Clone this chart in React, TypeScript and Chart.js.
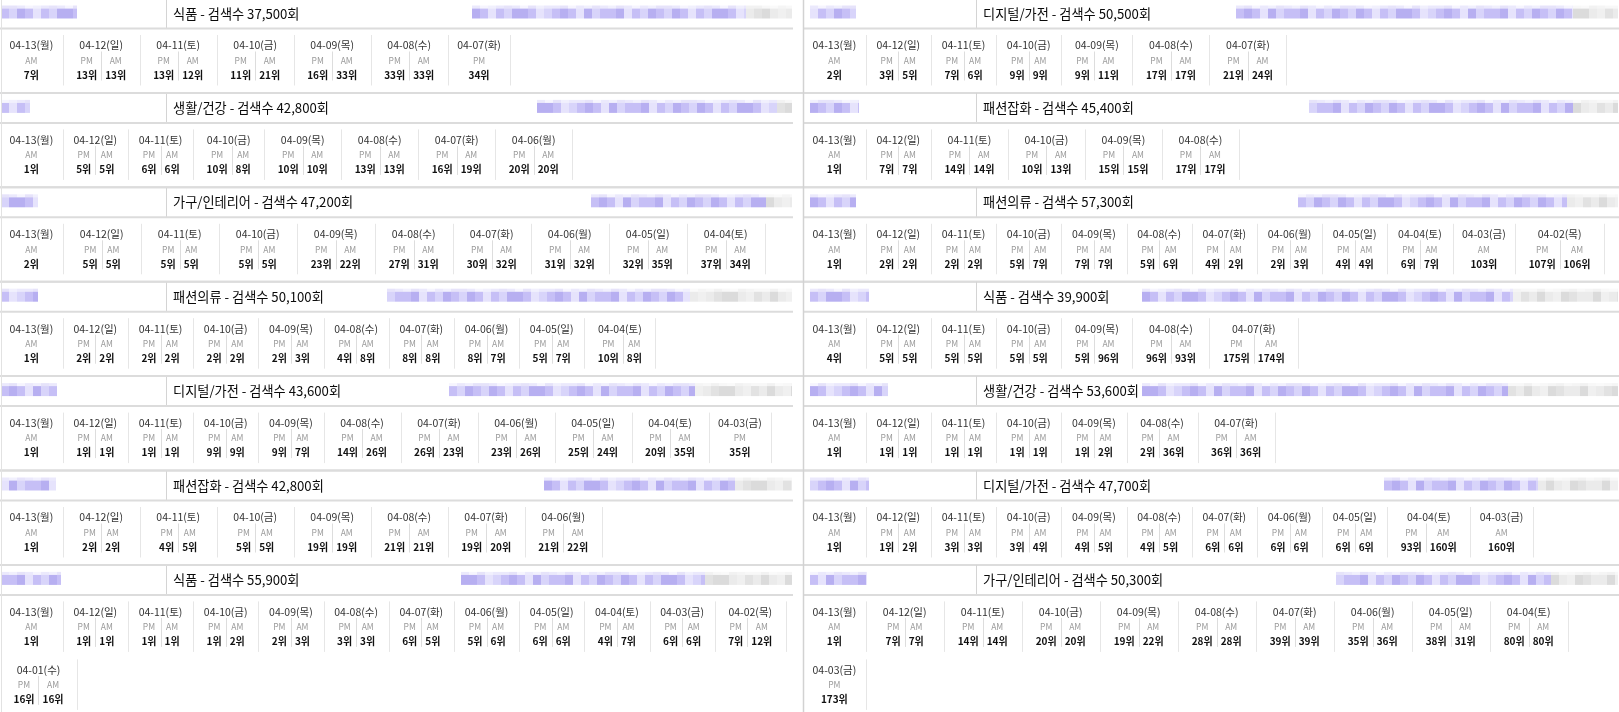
import React, { useEffect, useRef } from "react";
import { Chart, registerables } from "chart.js";
Chart.register(...registerables);

const W = 1619;
const H = 712;

// ---------- DATA ----------
const dateLabels = [
  "04-13(월)", "04-12(일)", "04-11(토)", "04-10(금)", "04-09(목)", "04-08(수)", "04-07(화)",
  "04-06(월)", "04-05(일)", "04-04(토)", "04-03(금)", "04-02(목)", "04-01(수)",
];

// panels: first seven = left column (top to bottom), next seven = right column
const categories = [
  "식품", "생활/건강", "가구/인테리어", "패션의류", "디지털/가전", "패션잡화", "식품",
  "디지털/가전", "패션잡화", "패션의류", "식품", "생활/건강", "디지털/가전", "가구/인테리어",
];
const searchCounts = [
  37500, 42800, 47200, 50100, 43600, 42800, 55900,
  50500, 45400, 57300, 39900, 53600, 47700, 50300,
];

const pmRanks: (number | null)[][] = [
  [null, 13, 13, 11, 16, 33, 34],
  [null, 5, 6, 10, 10, 13, 16, 20],
  [null, 5, 5, 5, 23, 27, 30, 31, 32, 37],
  [null, 2, 2, 2, 2, 4, 8, 8, 5, 10],
  [null, 1, 1, 9, 9, 14, 26, 23, 25, 20, 35],
  [null, 2, 4, 5, 19, 21, 19, 21],
  [null, 1, 1, 1, 2, 3, 6, 5, 6, 4, 6, 7, 16],
  [null, 3, 7, 9, 9, 17, 21],
  [null, 7, 14, 10, 15, 17],
  [null, 2, 2, 5, 7, 5, 4, 2, 4, 6, null, 107],
  [null, 5, 5, 5, 5, 96, 175],
  [null, 1, 1, 1, 1, 2, 36],
  [null, 1, 3, 3, 4, 4, 6, 6, 6, 93, null],
  [null, 7, 14, 20, 19, 28, 39, 35, 38, 80, 173],
];
const amRanks: (number | null)[][] = [
  [7, 13, 12, 21, 33, 33, null],
  [1, 5, 6, 8, 10, 13, 19, 20],
  [2, 5, 5, 5, 22, 31, 32, 32, 35, 34],
  [1, 2, 2, 2, 3, 8, 8, 7, 7, 8],
  [1, 1, 1, 9, 7, 26, 23, 26, 24, 35, null],
  [1, 2, 5, 5, 19, 21, 20, 22],
  [1, 1, 1, 2, 3, 3, 5, 6, 6, 7, 6, 12, 16],
  [2, 5, 6, 9, 11, 17, 24],
  [1, 7, 14, 13, 15, 17],
  [1, 2, 2, 7, 7, 6, 2, 3, 4, 7, 103, 106],
  [4, 5, 5, 5, 96, 93, 174],
  [1, 1, 1, 1, 2, 36, 36],
  [1, 2, 3, 4, 5, 5, 6, 6, 6, 160, 160],
  [1, 7, 14, 20, 22, 28, 39, 36, 31, 80, null],
];

// ---------- LAYOUT / STYLE ----------
const COL_X = [0, 803];
const COL_W = [803, 816];
const HEADER_END = [793, 1619];
const SPLIT = [166, 173];
const PANEL_TOP0 = -1.5;
const PANEL_PITCH = 94.4;
const ROW_PITCH = 58;
const SUB_PAD = 8;
const CELL_PAD = 19;
const minPairW = [0, 0, 78, 0, 0, 77, 0, 0, 0, 0, 0, 0, 0, 78];
// redacted (mosaic) text widths in header
const redactLeftW = [76, 29, 37, 37, 56, 55, 60, 46, 49, 46, 59, 78, 59, 57];
const redactPurpleW = [274, 240, 175, 303, 246, 191, 244, 337, 264, 269, 371, 366, 154, 215];
const redactGrayW = [46, 15, 26, 102, 97, 57, 87, 45, 45, 51, 105, 110, 80, 67];

const FONT = '"Noto Sans CJK KR", "Noto Sans", sans-serif';
const MOSAIC = [1, 0, 2, 1, 3, 1, 0, 2, 2, 1, 3, 0, 1, 2, 1, 3, 2, 0, 1, 1, 2, 3, 1, 0, 2];
const PURPLE = ["#d8d4fa", "#c6bff6", "#b7aff1", "#e6e3fc"];
const GRAY = ["#e2e2e2", "#ebebeb", "#dbdbdb", "#f0f0f0"];

type Sub = { label: string; rank: number; w: number };
type Cell = { date: string; subs: Sub[]; w: number; group: number; x: number; row: number };

function buildCells(ctx: CanvasRenderingContext2D, pi: number, x0: number, colW: number): Cell[] {
  const cells: Cell[] = [];
  const pm = pmRanks[pi];
  const am = amRanks[pi];
  let x = x0;
  let row = 0;
  let inRow = 0;
  for (let i = 0; i < pm.length; i++) {
    const subs: Sub[] = [];
    ctx.font = `bold 10px ${FONT}`;
    if (pm[i] != null) subs.push({ label: "PM", rank: pm[i] as number, w: ctx.measureText(`${pm[i]}위`).width + SUB_PAD });
    if (am[i] != null) subs.push({ label: "AM", rank: am[i] as number, w: ctx.measureText(`${am[i]}위`).width + SUB_PAD });
    const group = subs.reduce((s, d) => s + d.w, 0);
    ctx.font = `10.5px ${FONT}`;
    const dw = ctx.measureText(dateLabels[i]).width;
    let w = Math.max(group, dw) + CELL_PAD;
    if (subs.length === 2) w = Math.max(w, minPairW[pi]);
    if (inRow > 0 && x + w > x0 + colW) {
      row += 1;
      x = x0;
      inRow = 0;
    }
    cells.push({ date: dateLabels[i], subs, w, group, x, row });
    x += w;
    inRow += 1;
  }
  return cells;
}

function mosaic(ctx: CanvasRenderingContext2D, xa: number, xb: number, y: number, h: number, pal: string[], phase: number) {
  const step = 8;
  let k = phase;
  for (let x = xa; x < xb; x += step) {
    const w = Math.min(step, xb - x);
    ctx.fillStyle = pal[MOSAIC[k % MOSAIC.length]];
    ctx.fillRect(x, y, w, h);
    ctx.globalAlpha = 0.35;
    ctx.fillStyle = pal[MOSAIC[(k + 7) % MOSAIC.length]];
    ctx.fillRect(x, y - 3, w, 3);
    ctx.globalAlpha = 1;
    k++;
  }
}

const tablePlugin = {
  id: "rankTable",
  beforeDraw(chart: any) {
    const ctx = chart.ctx as CanvasRenderingContext2D;
    ctx.save();
    ctx.fillStyle = "#ffffff";
    ctx.fillRect(0, 0, chart.width, chart.height);
    ctx.restore();
  },
  afterDraw(chart: any) {
    const ctx = chart.ctx as CanvasRenderingContext2D;
    const xs = chart.scales.x;
    const ys = chart.scales.y;
    const X = (v: number) => xs.getPixelForValue(v);
    const Y = (v: number) => ys.getPixelForValue(v);
    const hline = (xa: number, xb: number, y: number, color: string, lw: number) => {
      ctx.strokeStyle = color;
      ctx.lineWidth = lw;
      ctx.beginPath();
      ctx.moveTo(X(xa), Y(y));
      ctx.lineTo(X(xb), Y(y));
      ctx.stroke();
    };
    const vline = (x: number, ya: number, yb: number, color: string, lw: number) => {
      ctx.strokeStyle = color;
      ctx.lineWidth = lw;
      ctx.beginPath();
      ctx.moveTo(Math.round(X(x)) + 0.5, Y(ya));
      ctx.lineTo(Math.round(X(x)) + 0.5, Y(yb));
      ctx.stroke();
    };
    ctx.save();

    for (let pi = 0; pi < categories.length; pi++) {
      const col = Math.floor(pi / 7);
      const r = pi % 7;
      const T = PANEL_TOP0 + r * PANEL_PITCH;
      const x0 = COL_X[col];
      const hEnd = HEADER_END[col];

      // header: redacted blocks
      const lx = col === 0 ? x0 + 1 : x0 + 7;
      mosaic(ctx, X(lx), X(lx + redactLeftW[pi]), Y(T + 10), Y(T + 20) - Y(T + 10), PURPLE, pi * 3);
      const gx = hEnd - 1 - redactGrayW[pi];
      const px = gx - redactPurpleW[pi];
      mosaic(ctx, X(px), X(gx), Y(T + 10), Y(T + 20) - Y(T + 10), PURPLE, pi * 5 + 2);
      mosaic(ctx, X(gx), X(hEnd - 1), Y(T + 10), Y(T + 20) - Y(T + 10), GRAY, pi);

      // header divider + title
      vline(x0 + SPLIT[col], T, T + 30, "#d4d4d4", 1);
      ctx.fillStyle = "#0a0a0a";
      ctx.font = `13.2px ${FONT}`;
      ctx.textAlign = "left";
      ctx.textBaseline = "middle";
      ctx.fillText(`${categories[pi]} - 검색수 ${searchCounts[pi].toLocaleString("en-US")}회`, X(x0 + SPLIT[col] + 7), Y(T + 15));

      // header bottom line
      hline(x0, hEnd, T + 30, "#dcdcdc", 2);
      // panel bottom line
      if (r < 6) hline(0, W, T + PANEL_PITCH, "#dcdcdc", 2);

      // body cells
      const cells = buildCells(ctx, pi, x0, COL_W[col]);
      for (const c of cells) {
        const ro = T + c.row * ROW_PITCH;
        const cx = c.x + c.w / 2;
        vline(c.x + c.w, ro + 36.5, ro + 87, "#e6e6e6", 1);
        ctx.textAlign = "center";
        ctx.textBaseline = "middle";
        ctx.fillStyle = "#333333";
        ctx.font = `10.5px ${FONT}`;
        ctx.fillText(c.date, X(cx), Y(ro + 47));
        let sx = cx - c.group / 2;
        c.subs.forEach((s, k) => {
          const sc = sx + s.w / 2;
          ctx.fillStyle = "#9a9a9a";
          ctx.font = `8.5px ${FONT}`;
          ctx.fillText(s.label, X(sc), Y(ro + 62));
          ctx.fillStyle = "#111111";
          ctx.font = `bold 10px ${FONT}`;
          ctx.fillText(`${s.rank}위`, X(sc), Y(ro + 76.5));
          if (k > 0) vline(sx, ro + 53, ro + 82, "#dddddd", 1);
          sx += s.w;
        });
      }
    }

    // column separator and left border
    vline(803, 0, H, "#d2d2d2", 1.5);
    vline(1, 0, H, "#e2e2e2", 1);
    ctx.restore();
  },
};

export default function App() {
  const ref = useRef<HTMLCanvasElement>(null);
  useEffect(() => {
    const canvas = ref.current!;
    const chart = new Chart(canvas, {
      type: "scatter",
      data: { datasets: [{ data: [], pointRadius: 0 }] },
      options: {
        animation: false,
        responsive: false,
        maintainAspectRatio: false,
        events: [],
        layout: { padding: 0 },
        plugins: { legend: { display: false }, tooltip: { enabled: false } },
        scales: {
          x: { type: "linear", min: 0, max: W, display: false },
          y: { type: "linear", min: 0, max: H, reverse: true, display: false },
        },
      },
      plugins: [tablePlugin as any],
    });
    let alive = true;
    const fonts = (document as any).fonts;
    if (fonts && fonts.load) {
      Promise.all([fonts.load(`10px ${FONT}`), fonts.load(`bold 10px ${FONT}`)]).then(() => {
        if (alive) chart.draw();
      });
    }
    return () => {
      alive = false;
      chart.destroy();
    };
  }, []);
  return (
    <div style={{ position: "absolute", left: 0, top: 0, width: W, height: H, background: "#fff" }}>
      <canvas ref={ref} width={W} height={H} style={{ width: W, height: H, display: "block" }} />
    </div>
  );
}
